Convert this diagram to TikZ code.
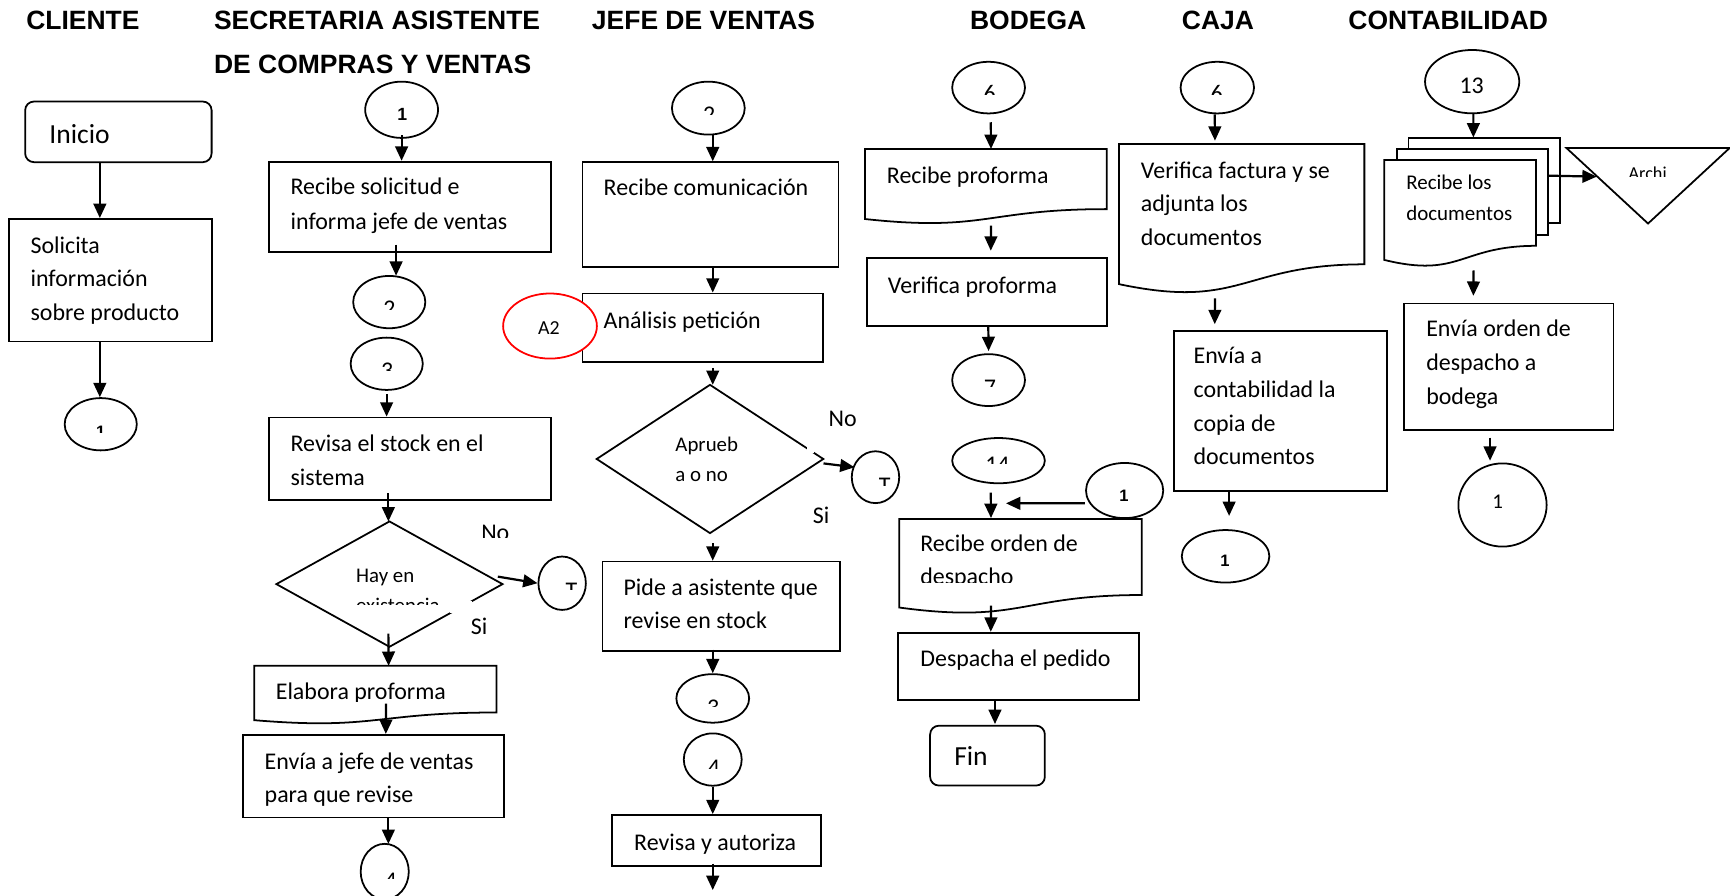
\documentclass[tikz,border=0pt]{standalone}
\usepackage{fontspec}
\setmainfont{Carlito}
\newfontfamily\arialfont{Liberation Sans}
\usetikzlibrary{arrows.meta,calc,shapes.geometric}

\newcommand\ml[2][30.5pt]{\vtop{\baselineskip=#1\relax\lineskiplimit=-\maxdimen\lineskip=0pt\halign{##\hfil\cr#2\crcr}}}

\newcommand\cliptxt[6][base]{%
  \begin{scope}
    \clip ({#3-300},{#5}) rectangle ({#3+300},{#4-80});
    \node[txt,anchor=#1] (#2) at (#3,#4) {#6};
  \end{scope}}

\newcommand\docshape[5]{%
  \node[ghost, minimum width=#4pt, minimum height=#5pt, anchor=north west] (#1) at (#2,#3) {};
  \draw[shp] (#2,#3) -- ({#2+#4},#3) -- ({#2+#4},{#3+0.802*#5})
    .. controls ({#2+0.5*#4},{#3+0.802*#5}) and ({#2+0.5*#4},{#3+1.1075*#5}) .. (#2,{#3+0.934*#5}) -- cycle;}

\tikzset{
  shp/.style={draw=black, line width=1.6pt, fill=white, inner sep=0pt},
  box/.style={shp, rectangle},
  rbox/.style={shp, rectangle, rounded corners=8pt},
  conn/.style={shp, ellipse},
  ghost/.style={inner sep=0pt, draw=none, rectangle},
  arr/.style={line width=2pt, -{Triangle[length=13pt,width=11.5pt]}},
  txt/.style={inner sep=0pt, font=\fontsize{21.7}{26}\selectfont},
  onefont/.style={font=\arialfont\bfseries\fontsize{15}{18}\selectfont},
  hdr/.style={inner sep=0pt, font=\arialfont\bfseries\fontsize{24}{29}\selectfont, anchor=base west},
}

\begin{document}
\begin{tikzpicture}[x=1pt,y=-1pt]
\useasboundingbox (0,0) rectangle (1568,812);
\fill[white] (0,0) rectangle (1568,812);

% ---------- headers
\node[hdr] (hcli) at (23.6,26.6) {CLIENTE};
\node[hdr] (hsec) at (193.8,26.6) {SECRETARIA ASISTENTE};
\node[hdr] (hsec2) at (193.8,67) {DE COMPRAS Y VENTAS};
\node[hdr] (hjef) at (536.3,26.6) {JEFE DE VENTAS};
\node[hdr] (hbod) at (879,26.6) {BODEGA};
\node[hdr] (hcaj) at (1071,26.6) {CAJA};
\node[hdr] (hcon) at (1222,26.6) {CONTABILIDAD};

% ---------- CLIENTE
\node[rbox, minimum width=169pt, minimum height=55pt] (inicio) at (107.3,119.5) {};
\node[txt, anchor=base west, font=\fontsize{25}{30}\selectfont] (tinicio) at (44.6,130) {Inicio};
\node[box, minimum width=183.6pt, minimum height=111.1pt] (solicita) at (100.2,253.95) {};
\node[txt, anchor=base west] (tsolicita) at (27.5,229.5) {\ml{Solicita\cr información\cr sobre producto}};
\node[conn, minimum width=65.4pt, minimum height=47.4pt] (c1) at (91.3,384.5) {};
\cliptxt{tc1}{91.4}{396.7}{392}{\arialfont\bfseries\fontsize{15}{18}\selectfont 1}

% ---------- SECRETARIA
\node[conn, minimum width=66pt, minimum height=51pt] (s1) at (364,99.5) {};
\node[txt, anchor=base, font=\arialfont\bfseries\fontsize{16}{19}\selectfont] (ts1) at (364.7,109.5) {1};
\node[box, minimum width=255.8pt, minimum height=82.1pt] (recsol) at (371.7,187.55) {};
\node[txt, anchor=base west] (trecsol) at (263.2,176.7) {\ml[31.1pt]{Recibe solicitud e\cr informa jefe de ventas}};
\node[conn, minimum width=65.4pt, minimum height=47.4pt] (s2a) at (352.8,273.8) {};
\cliptxt{ts2a}{352.9}{287}{280.3}{2}
\node[conn, minimum width=65.4pt, minimum height=47.4pt] (s2b) at (350.5,329.7) {};
\cliptxt{ts2b}{350.9}{342.9}{335.8}{3}
\node[box, minimum width=255.8pt, minimum height=74.8pt] (revstock) at (371.7,415.8) {};
\node[txt, anchor=base west] (trevstock) at (263.2,409.2) {\ml[30.4pt]{Revisa el stock en el\cr sistema}};
\node[ghost, minimum width=204.6pt, minimum height=113.2pt] (hay) at (353,529.4) {};
\draw[shp] (hay.north) -- (hay.east) -- (hay.south) -- (hay.west) -- cycle;
\node[txt, anchor=base west, font=\fontsize{18.9}{22}\selectfont] (thay) at (322.6,528) {Hay en};
\cliptxt[base west]{thay2}{322.6}{555.5}{547.8}{\fontsize{18.9}{22}\selectfont existencia}
\fill[white] (408,545) rectangle (428,556);
\cliptxt[base west]{tno1}{436}{489.8}{487}{No}
\node[txt, anchor=base west] (tsi1) at (426.5,575.5) {Si};
\node[conn, minimum width=43pt, minimum height=48.4pt] (cT1) at (509.5,528.6) {};
\cliptxt{tcT1}{518}{542.7}{534.7}{T}
\docshape{elab}{230.4}{603.5}{219.6}{52.7}
\cliptxt[base west]{telab}{249.8}{634.4}{636}{Elabora proforma}
\node[box, minimum width=236.4pt, minimum height=75pt] (envia) at (338.5,703.5) {};
\node[txt, anchor=base west] (tenvia) at (239.7,697.8) {\ml[29.6pt]{Envía a jefe de ventas\cr para que revise}};
\node[conn, minimum width=43.6pt, minimum height=50.4pt] (s4) at (348.7,790) {};
\cliptxt{ts4}{354}{805.1}{796}{4}

% ---------- JEFE DE VENTAS
\node[conn, minimum width=66pt, minimum height=48pt] (j2) at (642,98) {};
\cliptxt{tj2}{642.8}{111.3}{104.2}{2}
\node[box, minimum width=232pt, minimum height=95pt] (reccom) at (644,194.5) {};
\node[txt, anchor=base west] (treccom) at (547,177) {Recibe comunicación};
\node[box, minimum width=218pt, minimum height=62pt] (analisis) at (637,297) {};
\node[txt, anchor=base west] (tanalisis) at (547,297.6) {Análisis petición};
\node[conn, draw=red, minimum width=85pt, minimum height=59pt] (a2) at (498.5,295.5) {};
\node[txt, anchor=base, font=\fontsize{18}{22}\selectfont] (ta2) at (497.6,303.6) {A2};
\node[ghost, minimum width=205pt, minimum height=134pt] (aprueba) at (643.5,416) {};
\draw[shp] (aprueba.north) -- (aprueba.east) -- (aprueba.south) -- (aprueba.west) -- cycle;
\node[txt, anchor=base west, font=\fontsize{18.9}{22}\selectfont] (taprueba) at (612,409.4) {\ml[27.2pt]{Aprueb\cr a o no}};
\fill[white] (731,405) rectangle (738,411);
\node[txt, anchor=base west] (tno2) at (750.8,386.7) {No};
\node[txt, anchor=base west] (tsi2) at (736.6,474.3) {Si};
\node[conn, minimum width=43pt, minimum height=47pt] (cT2) at (793.5,432.5) {};
\cliptxt{tcT2}{801.8}{447.5}{439.6}{T}
\node[box, minimum width=215pt, minimum height=81pt] (pide) at (653.5,549.5) {};
\node[txt, anchor=base west] (tpide) at (565,540) {\ml[29.5pt]{Pide a asistente que\cr revise en stock}};
\node[conn, minimum width=66pt, minimum height=44pt] (j3) at (646,633) {};
\cliptxt{tj3}{646.3}{648.2}{640.5}{3}
\node[conn, minimum width=52.5pt, minimum height=47.4pt] (j4) at (646,688.4) {};
\cliptxt{tj4}{647}{702.5}{696.4}{4}
\node[box, minimum width=189pt, minimum height=45.9pt] (revaut) at (649.5,761.65) {};
\node[txt, anchor=base west] (trevaut) at (574.6,770.4) {Revisa y autoriza};
\coordinate (jend) at (646,806.7);

% ---------- BODEGA
\node[conn, minimum width=66pt, minimum height=46.8pt] (b6) at (896,79.4) {};
\cliptxt{tb6}{897}{91.7}{86}{6}
\docshape{recprof}{784}{135}{219}{68}
\node[txt, anchor=base west] (trecprof) at (803.7,166) {Recibe proforma};
\node[box, minimum width=217.5pt, minimum height=61.5pt] (verprof) at (894.25,264.75) {};
\node[txt, anchor=base west] (tverprof) at (804.6,265.7) {Verifica proforma};
\node[conn, minimum width=66pt, minimum height=47pt] (b7) at (896,344.5) {};
\cliptxt{tb7}{897.3}{358.1}{350.5}{7}
\node[conn, minimum width=84pt, minimum height=41pt] (b14) at (905,417.5) {};
\cliptxt{tb14}{904}{428.2}{420}{14}
\node[conn, minimum width=70pt, minimum height=50pt] (b1) at (1019.3,444.6) {};
\node[txt, anchor=base, onefont] (tb1) at (1018.8,454.7) {1};
\coordinate (b1tip) at (911.8,456.2);
\docshape{recorden}{815}{470.4}{219.8}{85.9}
\node[txt, anchor=base west] (trecorden) at (833.9,500) {Recibe orden de};
\cliptxt[base west]{trecorden2}{833.9}{529.5}{527.5}{despacho}
\node[box, minimum width=218.4pt, minimum height=61.1pt] (despacha) at (923.2,603.95) {};
\node[txt, anchor=base west] (tdespacha) at (834,604.2) {Despacha el pedido};
\node[rbox, minimum width=104pt, minimum height=54.3pt] (fin) at (895,684.85) {};
\node[txt, anchor=base west, font=\fontsize{25}{30}\selectfont] (tfin) at (864.7,694) {Fin};

% ---------- CAJA
\node[conn, minimum width=66.6pt, minimum height=46.8pt] (k6) at (1103.3,79.4) {};
\cliptxt{tk6}{1102.7}{91.7}{86}{6}
\docshape{verfac}{1014.2}{130.5}{222.4}{136}
\node[txt, anchor=base west] (tverfac) at (1033.9,161.6) {\ml[30.3pt]{Verifica factura y se\cr adjunta los\cr documentos}};
\node[box, minimum width=193pt, minimum height=145pt] (envcont) at (1160.5,372.5) {};
\node[txt, anchor=base west] (tenvcont) at (1081.6,329.3) {\ml[30.7pt]{Envía a\cr contabilidad la\cr copia de\cr documentos}};
\node[conn, minimum width=79.4pt, minimum height=47.6pt] (k1) at (1110.8,504.2) {};
\node[txt, anchor=base, onefont] (tk1) at (1110.3,513.6) {1};

% ---------- CONTABILIDAD
\node[conn, minimum width=85.4pt, minimum height=57.4pt] (c13) at (1334.3,74) {};
\node[txt, anchor=base] (tc13) at (1333.9,84.6) {13};
\node[box, minimum width=137.5pt, minimum height=77pt] (mback) at (1345.25,163.9) {};
\node[box, minimum width=136.7pt, minimum height=78pt] (mmid) at (1334.35,174) {};
\docshape{mfront}{1254.7}{145}{137.5}{97}
\node[txt, anchor=base west, font=\fontsize{19}{23}\selectfont] (tmfront) at (1274.4,172.2) {\ml[27.2pt]{Recibe los\cr documentos}};
\node[ghost, minimum width=147.4pt, minimum height=68pt] (archi) at (1493.7,168.4) {};
\draw[shp] (archi.north west) -- (archi.north east) -- (archi.south) -- cycle;
\cliptxt[base west]{tarchi}{1475.9}{162.6}{160.1}{\fontsize{16.5}{20}\selectfont Archi}
\node[box, minimum width=189.5pt, minimum height=114.7pt] (envord) at (1367.55,332.35) {};
\node[txt, anchor=base west] (tenvord) at (1292.5,305.2) {\ml[30.5pt]{Envía orden de\cr despacho a\cr bodega}};
\node[conn, minimum width=80pt, minimum height=75.4pt] (c1b) at (1361.8,457.7) {};
\node[txt, anchor=base, font=\fontsize{19}{22}\selectfont] (tc1b) at (1357.5,461) {1};

% ---------- connectors
\draw[arr] ($(inicio.south)+(-16.8,0)$) -- ($(solicita.north)+(-9.7,0)$);
\draw[arr] ($(solicita.south)+(-9.7,0)$) -- ($(c1.north)+(-0.8,0)$);

\draw[arr] ($(s1.south)+(0,-3)$) -- ($(recsol.north)+(-7.7,0)$);
\draw[arr] ($(recsol.south)+(-12.7,-7.6)$) -- ($(s2a.north)+(6.2,0.6)$);
\draw[arr] ($(s2b.south)+(-0.1,3)$) -- ($(revstock.north)+(-21.3,0)$);
\draw[arr] ($(revstock.south)+(-19.7,-7)$) -- ($(hay.north)+(-1,0)$);
\draw[arr] ($(hay.east)+(-4.3,-6.8)$) -- (cT1.west);
\draw[arr] ($(hay.south)+(-1,-12)$) -- ($(elab.north)+(11.8,0)$);
\draw[arr] ($(elab.south)+(9.5,-18.8)$) -- ($(envia.north)+(11.2,0)$);
\draw[arr] ($(envia.south)+(13.5,0)$) -- ($(s4.north)+(3.3,0.9)$);

\draw[arr] ($(j2.south)+(4,-1)$) -- ($(reccom.north)+(2,0)$);
\draw[arr] ($(reccom.south)+(2,0)$) -- ($(analisis.north)+(9,0)$);
\draw[arr] ($(analisis.south)+(9,4.6)$) -- ($(aprueba.north)+(2.5,0)$);
\draw[arr] ($(aprueba.east)+(0.2,4)$) -- ($(cT2.center)+(-19,-9)$);
\draw[arr] ($(aprueba.south)+(2.5,9)$) -- ($(pide.north)+(-7.5,0)$);
\draw[arr] ($(pide.south)+(-7.5,-2)$) -- (j3.north);
\draw[arr] (j4.south) -- ($(revaut.north)+(-3.5,0)$);
\draw[arr] ($(revaut.south)+(-3.5,-2.6)$) -- (jend);

\draw[arr] ($(b6.south)+(2,7.2)$) -- ($(recprof.north)+(4.5,0)$);
\draw[arr] ($(recprof.south)+(4.5,1)$) -- ($(verprof.north)+(3.75,-6)$);
\draw[arr] ($(verprof.south)+(1.5,0)$) -- ($(b7.north)+(0,-2)$);
\draw[arr] ($(b14.south)+(-7,7.6)$) -- ($(recorden.north)+(-26.9,-0.9)$);
\draw[arr] ($(b1.center)+(-36,11.6)$) -- (b1tip);
\draw[arr] ($(recorden.south)+(-26.9,-7.9)$) -- ($(despacha.north)+(-25.2,0)$);
\draw[arr] ($(despacha.south)+(-21.4,-1.7)$) -- ($(fin.north)+(6.8,-0.7)$);

\draw[arr] ($(k6.south)+(-2.3,0)$) -- ($(verfac.north)+(-24.4,-3)$);
\draw[arr] ($(verfac.south)+(-24.4,3.5)$) -- ($(envcont.north)+(-59.5,-5.4)$);
\draw[arr] ($(envcont.south)+(-46.5,0)$) -- ($(k1.north)+(3.2,-12)$);

\draw[arr] ($(c13.south)+(1.1,0)$) -- ($(mback.north)+(-9.85,0)$);
\draw[arr] ($(mmid.east)+(0,-14.8)$) -- ($(archi.center)+(-46.5,-8.3)$);
\draw[arr] ($(mfront.south)+(11.95,2.7)$) -- ($(envord.north)+(-32.15,-6.1)$);
\draw[arr] ($(envord.south)+(-17.05,6.1)$) -- ($(c1b.north)+(-11.3,-1.6)$);
\end{tikzpicture}
\end{document}
